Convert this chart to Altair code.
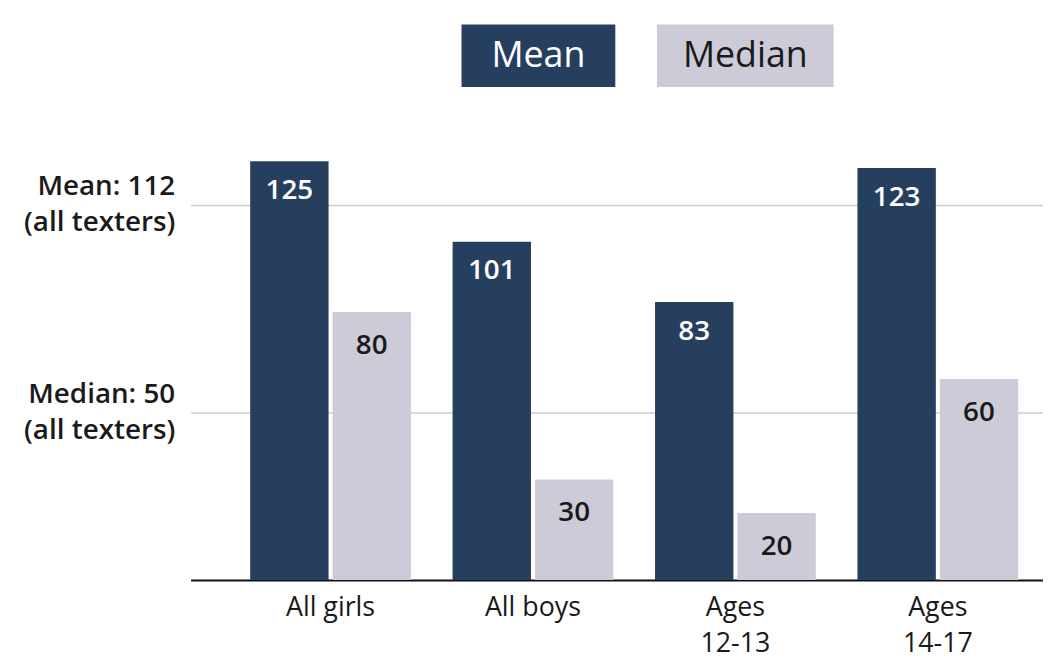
import json
import altair as alt
import pandas as pd

# ---- data ----
categories = ["All girls", "All boys", "Ages 12-13", "Ages 14-17"]
series = ["Mean", "Median"]
mean_values = [125, 101, 83, 123]
median_values = [80, 30, 20, 60]
ref_values = [112, 50]
ref_labels = [["Mean: 112", "(all texters)"], ["Median: 50", "(all texters)"]]

NAVY = "#263f5f"
GREY = "#cdcbd7"
TEXT = "#1a1a1a"
FONT = "Open Sans"

rows = []
for c, m, md in zip(categories, mean_values, median_values):
    rows.append({"group": c, "series": series[0], "value": m})
    rows.append({"group": c, "series": series[1], "value": md})
df = pd.DataFrame(rows)

y_label_expr = (
    f"datum.value == {ref_values[0]} ? {json.dumps(ref_labels[0])} : "
    f"{json.dumps(ref_labels[1])}"
)
x_label_expr = "indexof(datum.label, 'Ages ') == 0 ? split(datum.label, ' ') : datum.label"

x_enc = alt.X(
    "group:N",
    sort=categories,
    scale=alt.Scale(paddingInner=0.206, paddingOuter=0.2085, align=0.706),
    axis=alt.Axis(
        title=None, labelExpr=x_label_expr, labelAngle=0, labelFontSize=27,
        labelFont=FONT, labelColor=TEXT, labelPadding=15, labelBaseline="top",
        labelLineHeight=36, ticks=False, domainColor="#111111", domainWidth=2,
        grid=False,
    ),
)
xoff_enc = alt.XOffset("series:N", sort=series,
                       scale=alt.Scale(paddingInner=0.048, paddingOuter=0))
y_enc = alt.Y(
    "value:Q",
    scale=alt.Scale(domain=[0, 130], nice=False),
    axis=alt.Axis(
        title=None, values=ref_values, labelExpr=y_label_expr, grid=True,
        gridColor="#cccccc", gridWidth=1.5, domain=False, ticks=False,
        labelFont=FONT, labelFontSize=28, labelFontWeight=600, labelColor=TEXT,
        labelPadding=16, labelLineHeight=36, labelBaseline="middle",
        labelOffset=-18,
    ),
)

base = alt.Chart(df).encode(x=x_enc, xOffset=xoff_enc, y=y_enc)

bars = base.mark_bar().encode(
    color=alt.Color("series:N", scale=alt.Scale(domain=series, range=[NAVY, GREY]),
                    legend=None)
)

text_mean = base.transform_filter(f"datum.series == '{series[0]}'").mark_text(
    dy=30, fontSize=28, fontWeight=600, font=FONT, color="white", baseline="middle"
).encode(text="value:Q")

text_median = base.transform_filter(f"datum.series == '{series[1]}'").mark_text(
    dy=34, fontSize=28, fontWeight=600, font=FONT, color=TEXT, baseline="middle"
).encode(text="value:Q")

# ---- legend (decoration boxes at top) ----
leg_df = pd.DataFrame({"series": series})
legend_boxes = [
    (series[0], 273, 428, NAVY, "white"),
    (series[1], 470, 648, GREY, TEXT),
]
legend_layers = []
for name, x0, x1, fill, tcol in legend_boxes:
    src = alt.Chart(leg_df).transform_filter(f"datum.series == '{name}'")
    legend_layers.append(
        src.mark_rect(color=fill).encode(
            x=alt.value(x0), x2=alt.value(x1), y=alt.value(-121), y2=alt.value(-58)
        )
    )
    legend_layers.append(
        src.mark_text(font=FONT, fontSize=36, color=tcol, baseline="middle",
                      align="center").encode(
            x=alt.value((x0 + x1) / 2), y=alt.value(-89), text="series:N"
        )
    )

chart = alt.layer(bars, text_mean, text_median, *legend_layers).properties(
    width=859,
    height=439,
    autosize=alt.AutoSizeParams(type="none"),
    padding={"left": 184, "top": 135, "right": 0, "bottom": 82},
    background="white",
).configure_view(stroke=None)

chart.save("out.html", embed_options={"renderer": "svg", "actions": False})
